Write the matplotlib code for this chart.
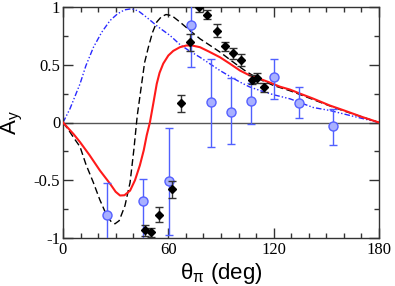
import matplotlib
matplotlib.use("Agg")
import matplotlib.pyplot as plt
from matplotlib.ticker import MultipleLocator

plt.rcParams['mathtext.fontset'] = 'custom'
plt.rcParams['mathtext.rm'] = 'Liberation Sans'
plt.rcParams['mathtext.it'] = 'Liberation Sans:italic'

# Theory curves
red_x = [0, 3, 6, 9.7, 15, 21, 26.8, 30, 32.5, 35, 38.2, 41, 43.8, 46, 47.7, 49.5, 51.5, 53.4, 55,
         57.1, 60, 62.8, 66.6, 70.4, 74, 78, 83, 89.4, 95, 100.8, 106, 112.2, 118, 123.6, 129.3,
         135, 142, 152, 160, 170, 175, 180]
red_y = [0, -0.05, -0.10, -0.17, -0.28, -0.415, -0.53, -0.60, -0.632, -0.63, -0.59, -0.50, -0.37,
         -0.24, -0.11, 0.0, 0.17, 0.335, 0.43, 0.51, 0.58, 0.62, 0.652, 0.667, 0.665, 0.652, 0.615,
         0.565, 0.51, 0.45, 0.41, 0.378, 0.345, 0.31, 0.285, 0.25, 0.21, 0.147, 0.105, 0.05, 0.025, 0]

dash_x = [0, 3, 6, 9.7, 13, 17.3, 21, 24.9, 27.5, 29.6, 32, 35.3, 38.2, 40.4, 42.3, 44.8, 46.5, 48.6,
          51, 53.4, 56, 58.7, 62, 66.6, 72, 78, 83.5, 89.4, 95, 100.8, 104.5, 108.4, 114, 120,
          129.3, 138, 150, 160, 170, 180]
dash_y = [0, -0.06, -0.13, -0.21, -0.36, -0.52, -0.67, -0.805, -0.86, -0.877, -0.85, -0.72, -0.52,
          -0.23, 0.06, 0.335, 0.52, 0.65, 0.78, 0.87, 0.915, 0.935, 0.925, 0.87, 0.80, 0.725, 0.67,
          0.61, 0.545, 0.48, 0.44, 0.405, 0.36, 0.32, 0.275, 0.225, 0.155, 0.10, 0.05, 0]

dd_x = [0, 4, 9.7, 13, 17.3, 22, 26.8, 31, 35, 39.1, 43, 47.7, 54, 61, 66.6, 72, 78, 84, 89.4, 95,
        100.8, 106, 112.2, 120, 129.3, 142.5, 152, 165, 180]
dd_y = [0, 0.12, 0.335, 0.49, 0.65, 0.78, 0.883, 0.94, 0.975, 0.985, 0.965, 0.91, 0.83, 0.753,
        0.675, 0.62, 0.565, 0.505, 0.45, 0.40, 0.35, 0.31, 0.277, 0.24, 0.205, 0.13, 0.104, 0.055, 0]

# Data points
black_x = [46.9, 50.3, 54.8, 61.9, 67.0, 72.5, 77.5, 82.2, 87.5, 92.3, 96.6, 101.5, 107.5, 110.3, 114.3]
black_y = [-0.935, -0.95, -0.80, -0.58, 0.165, 0.695, 1.0, 0.935, 0.795, 0.66, 0.598, 0.543, 0.37,
           0.385, 0.305]
black_err = [0.05, 0.04, 0.065, 0.075, 0.07, 0.072, 0.04, 0.04, 0.055, 0.04, 0.05, 0.05, 0.04, 0.04, 0.04]

blue_x = [25.2, 45.4, 60.4, 72.7, 84.5, 95.7, 107.2, 120.1, 134.6, 153.9]
blue_y = [-0.805, -0.68, -0.51, 0.84, 0.175, 0.092, 0.188, 0.397, 0.173, -0.032]
blue_err_lo = [0.28, 0.40, 0.46, 0.36, 0.385, 0.28, 0.20, 0.197, 0.13, 0.16]
blue_err_hi = [0.28, 0.195, 0.46, 0.36, 0.375, 0.29, 0.15, 0.153, 0.133, 0.15]

x_ticks = [0, 60, 120, 180]
y_ticks = [-1, -0.5, 0, 0.5, 1]
y_ticklabels = ['-1', '-0.5', '0', '0.5', '1']

fig = plt.figure(figsize=(3.95, 2.86), dpi=100)
ax = fig.add_axes([63/395, 1-238/286, 316/395, 231/286])

ax.axhline(0, color='#555555', lw=1.0, zorder=1)

ax.plot(dd_x, dd_y, color='#2a2aff', lw=1.0, dashes=(4, 1.5, 1, 1.5, 1, 1.5), zorder=2)
ax.plot(dash_x, dash_y, color='black', lw=1.0, dashes=(5, 2.5), zorder=2)
ax.plot(red_x, red_y, color='#ff1a1a', lw=1.5, zorder=3)

ax.errorbar(blue_x, blue_y, yerr=[blue_err_lo, blue_err_hi], fmt='o', ms=6.5,
            mfc='#a8b0ff', mec='#5560ff', mew=1.0, ecolor='#5060ff', elinewidth=1.0,
            capsize=3, capthick=1.0, zorder=4)
ax.errorbar(black_x, black_y, yerr=black_err, fmt='D', ms=4.5, mfc='black', mec='black',
            ecolor='#333333', elinewidth=1.0, capsize=3, capthick=1.0, zorder=5)

ax.set_xlim(0, 180)
ax.set_ylim(-1, 1)
ax.set_xticks(x_ticks)
ax.set_yticks(y_ticks)
ax.set_yticklabels(y_ticklabels)
ax.xaxis.set_minor_locator(MultipleLocator(10))
ax.yaxis.set_minor_locator(MultipleLocator(0.25))
ax.tick_params(which='both', direction='in', top=True, right=True, colors='#333333',
               labelcolor='black')
ax.tick_params(which='major', length=7, width=1.0)
ax.tick_params(which='minor', length=3.5, width=1.0)
for lab in ax.get_xticklabels() + ax.get_yticklabels():
    lab.set_fontfamily('Liberation Serif')
    lab.set_fontsize(12)
ax.tick_params(axis='x', pad=3)
ax.tick_params(axis='y', pad=2)
for s in ax.spines.values():
    s.set_color('#333333')
    s.set_linewidth(1.0)

ax.set_xlabel(r'$\mathrm{\theta_{\pi}}$ (deg)', fontfamily='Liberation Sans', fontsize=16, labelpad=2)
ax.set_ylabel(r'$\mathrm{A_{y}}$', fontfamily='Liberation Sans', fontsize=16, labelpad=6)

fig.savefig('out.png', dpi=100)
